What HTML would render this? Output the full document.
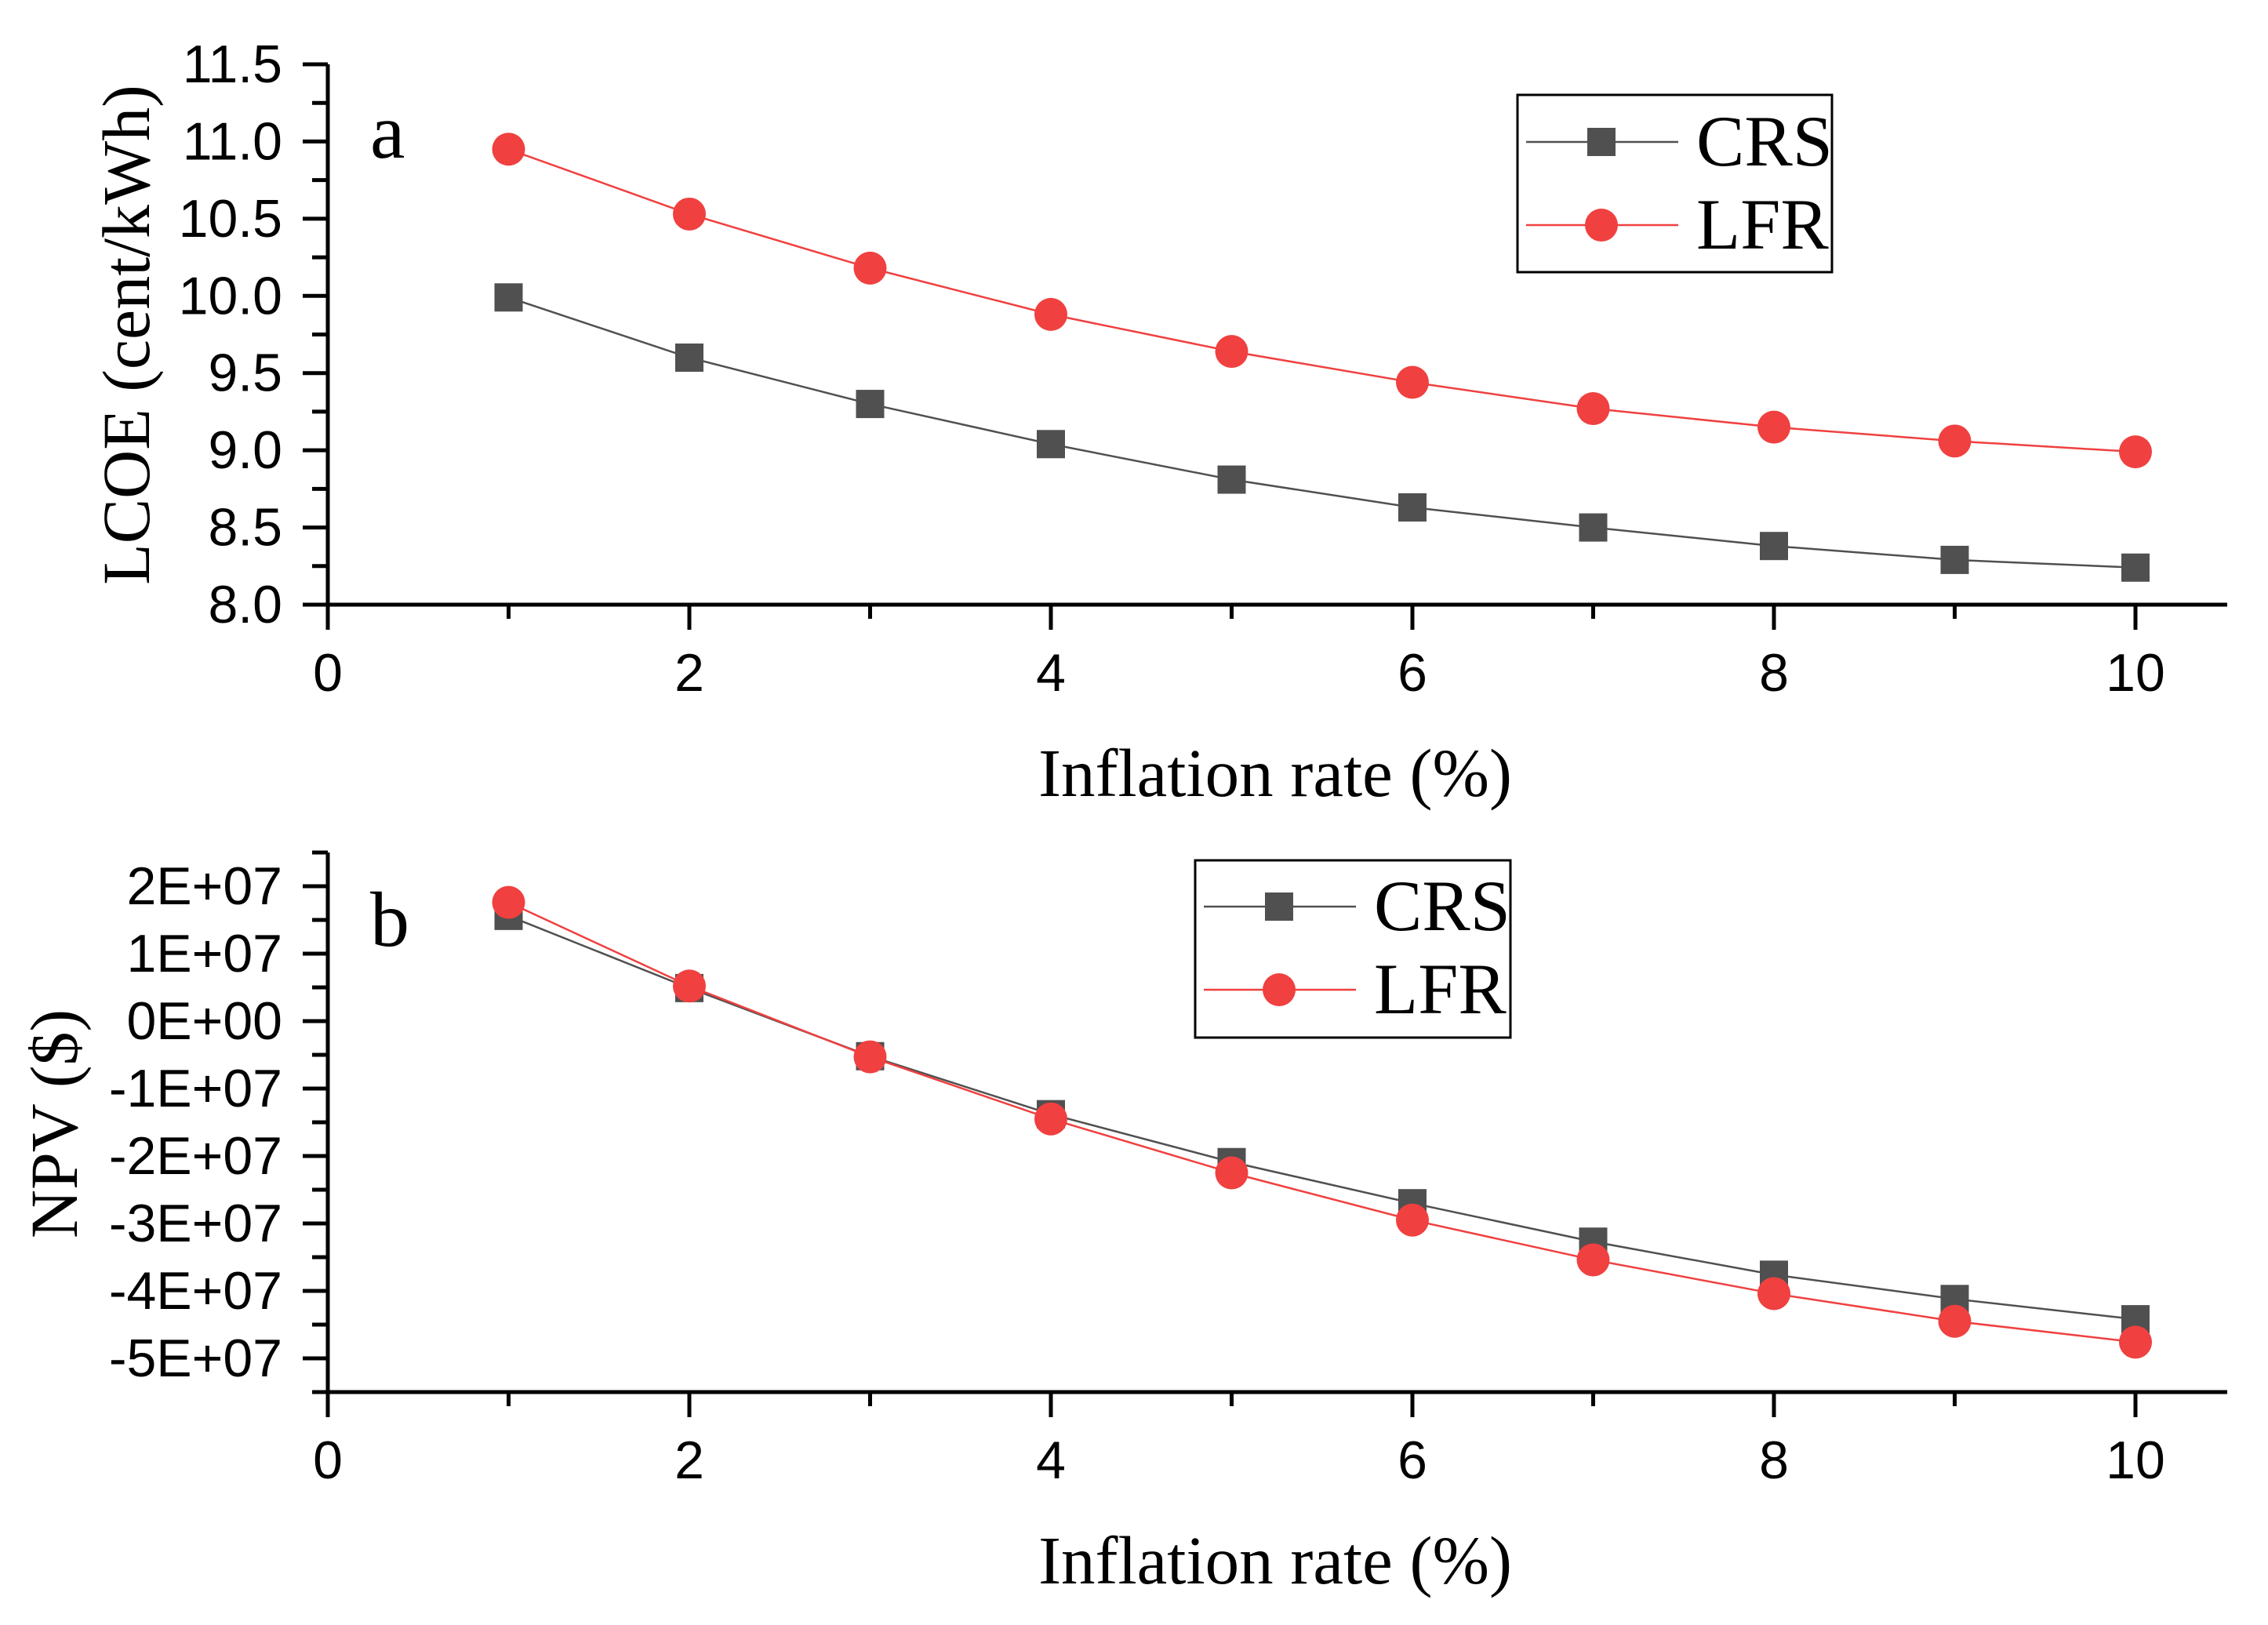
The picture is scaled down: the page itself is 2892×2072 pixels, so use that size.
<!DOCTYPE html>
<html><head><meta charset="utf-8">
<style>html,body{margin:0;padding:0;background:#fff}svg{display:block}</style></head>
<body>
<svg id="chart" width="2892" height="2072" viewBox="0 0 2892 2072" xmlns="http://www.w3.org/2000/svg">
  <rect x="0" y="0" width="2892" height="2072" fill="#fff"/>
  <g id="pa"></g>
  <g id="pb"></g>
</svg>
<script>
const xs = [1,2,3,4,5,6,7,8,9,10];
const xTicks = [0,2,4,6,8,10];
const lcoeCRS = [9.99,9.60,9.30,9.04,8.81,8.63,8.50,8.38,8.29,8.24];
const lcoeLFR = [10.95,10.53,10.18,9.88,9.64,9.44,9.27,9.15,9.06,8.99];
const lcoeTicks = [8.0,8.5,9.0,9.5,10.0,10.5,11.0,11.5];
const lcoeTickLabels = ["8.0","8.5","9.0","9.5","10.0","10.5","11.0","11.5"];
const npvCRS = [1.56,0.49,-0.52,-1.38,-2.09,-2.70,-3.27,-3.76,-4.12,-4.42];
const npvLFR = [1.76,0.52,-0.53,-1.45,-2.25,-2.95,-3.54,-4.04,-4.45,-4.76];
const npvTicks = [2,1,0,-1,-2,-3,-4,-5];
const npvTickLabels = ["2E+07","1E+07","0E+00","-1E+07","-2E+07","-3E+07","-4E+07","-5E+07"];

const NS = "http://www.w3.org/2000/svg";
function mk(parent, tag, attrs){const e=document.createElementNS(NS,tag);for(const k in attrs)e.setAttribute(k,attrs[k]);parent.appendChild(e);return e;}
const X0=418, XU=230.5, XEND=2840;
function xScale(v){return X0+v*XU;}

function drawPanel(g, o){
  const yScale = v => o.yBottom - (v - o.yMin)/(o.yMax - o.yMin)*(o.yBottom - o.yTop);
  const ya = mk(g,'line',{x1:X0,y1:o.yTop,x2:X0,y2:o.yBottom,stroke:'#000','stroke-width':5});
  
  
  const xa = mk(g,'line',{x1:X0-2,y1:o.yBottom,x2:XEND,y2:o.yBottom,stroke:'#000','stroke-width':5});
  
  
  for(let i=0;i<o.ticks.length;i++){
    const y=yScale(o.ticks[i]);
    const t=mk(g,'line',{x1:X0-32,y1:y,x2:X0,y2:y,stroke:'#000','stroke-width':5});
    
    
    const lb=mk(g,'text',{x:360,y:y+23,'text-anchor':'end','font-family':'Liberation Sans, sans-serif','font-size':68,fill:'#000'});
    lb.textContent=o.labels[i];
    
    
  }
  for(let v=o.yMin; v<=o.yMax+1e-9; v+=o.minorStep){
    const y=yScale(v);
    const isMajor=o.ticks.some(t=>Math.abs(t-v)<1e-6);
    if(isMajor) continue;
    const t=mk(g,'line',{x1:X0-20,y1:y,x2:X0,y2:y,stroke:'#000','stroke-width':5});
    
    
  }
  for(let v=0; v<=10; v++){
    const x=xScale(v);
    const major=xTicks.includes(v);
    const t=mk(g,'line',{x1:x,y1:o.yBottom,x2:x,y2:o.yBottom+(major?32:18),stroke:'#000','stroke-width':5});
    
    
    if(major){
      const lb=mk(g,'text',{x:x,y:o.yBottom+110,'text-anchor':'middle','font-family':'Liberation Sans, sans-serif','font-size':68,fill:'#000'});
      lb.textContent=String(v);
      
      
    }
  }
  const series=[{d:o.crs,c:'#505050',n:'crs'},{d:o.lfr,c:'#f04040',n:'lfr'}];
  series.forEach(s=>{
    const pts=xs.map((x,i)=>xScale(x)+','+yScale(s.d[i])).join(' ');
    const pl=mk(g,'polyline',{points:pts,fill:'none',stroke:s.c,'stroke-width':2.5});
    
    
  });
  series.forEach(s=>{
    xs.forEach((x,i)=>{
      const cx=xScale(x), cy=yScale(s.d[i]);
      let m;
      if(s.n==='crs') m=mk(g,'rect',{x:cx-18,y:cy-18,width:36,height:36,fill:s.c});
      else m=mk(g,'circle',{cx:cx,cy:cy,r:21,fill:s.c});
      
      
    });
  });
  const pl=mk(g,'text',{x:472,y:o.letterY,'font-family':'Liberation Serif, serif','font-size':100,fill:'#000'});
  pl.textContent=o.letter;
  
  
  const yt=mk(g,'text',{x:0,y:0,transform:`translate(${o.ytX},${o.ytY}) rotate(-90)`,'text-anchor':'middle','font-family':'Liberation Serif, serif','font-size':86,fill:'#000'});
  yt.textContent=o.yTitle;
  
  
  const xt=mk(g,'text',{x:1626,y:o.yBottom+244,'text-anchor':'middle','font-family':'Liberation Serif, serif','font-size':87,fill:'#000'});
  xt.textContent='Inflation rate (%)';
  
  
  const L=o.legend;
  const lg=mk(g,'g',{});
  
  
  mk(lg,'rect',{x:L.x,y:L.y,width:L.w,height:L.h,fill:'#fff',stroke:'#000','stroke-width':3});
  [{n:'CRS',c:'#505050',sq:true,ry:L.r1},{n:'LFR',c:'#f04040',sq:false,ry:L.r2}].forEach(e=>{
    const eg=mk(lg,'g',{});
    
    
    mk(eg,'line',{x1:L.x+11,y1:e.ry,x2:L.x+205,y2:e.ry,stroke:e.c,'stroke-width':2.5});
    const mx=L.x+107;
    if(e.sq) mk(eg,'rect',{x:mx-18,y:e.ry-18,width:36,height:36,fill:e.c});
    else mk(eg,'circle',{cx:mx,cy:e.ry,r:21,fill:e.c});
    const t=mk(eg,'text',{x:L.x+228,y:e.ry+30,'font-family':'Liberation Serif, serif','font-size':92,fill:'#000'});
    t.textContent=e.n;
  });
}

drawPanel(document.getElementById('pa'),{
  yTop:82,yBottom:771,yMin:8,yMax:11.5,minorStep:0.25,
  ticks:lcoeTicks,labels:lcoeTickLabels,crs:lcoeCRS,lfr:lcoeLFR,
  letter:'a',letterY:201,yTitle:'LCOE (cent/kWh)',ytX:190,ytY:427,
  legend:{x:1935,y:121,w:401,h:226,r1:181,r2:287}
});
drawPanel(document.getElementById('pb'),{
  yTop:1087,yBottom:1775,yMin:-5.5,yMax:2.5,minorStep:0.5,
  ticks:npvTicks,labels:npvTickLabels,crs:npvCRS,lfr:npvLFR,
  letter:'b',letterY:1206,yTitle:'NPV ($)',ytX:98,ytY:1433,
  legend:{x:1524,y:1097,w:402,h:226,r1:1156,r2:1262}
});
</script>
</body></html>
